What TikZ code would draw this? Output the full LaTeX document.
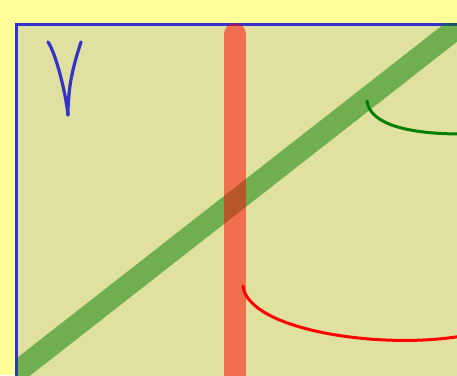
\documentclass[tikz,border=0pt]{standalone}
\usepackage{xcolor}
\usepackage{tikz}

\definecolor{paper}{RGB}{255,255,153}
\definecolor{khaki}{RGB}{224,224,160}
\definecolor{frameblue}{RGB}{51,51,204}
\definecolor{arcgreen}{RGB}{0,128,0}

\begin{document}
\begin{tikzpicture}[
    x=1pt, y=-1pt,
    frame/.style={draw=frameblue, fill=khaki, line width=3pt},
    bar/.style={line width=22pt, opacity=0.5},
    arc/.style={line width=3pt, line cap=round},
    vstroke/.style={draw=frameblue, line width=3.2pt, line cap=round, line join=round}
]
\useasboundingbox (0,0) rectangle (457,375);
\clip (0,0) rectangle (457,375);
\fill[paper] (0,0) rectangle (457,375);

% frame
\draw[frame] (16,24.5) rectangle (480,400);

% the V mark
\draw[vstroke] (48,42) .. controls (55,52) and (65,88) .. (68,115);
\draw[vstroke] (81,42) .. controls (74,64) and (68,84) .. (68,115);

% thick bars
\coordinate (greenlow) at (-10,393);
\coordinate (greenhigh) at (490,2);
\coordinate (redtop) at (235,34);
\coordinate (redbot) at (235,400);
\begin{scope}
  \clip (17,23) rectangle (480,400);
  \draw[bar, draw=arcgreen] (greenlow) -- (greenhigh);
\end{scope}
\draw[bar, draw=red, line cap=round] (redtop) -- (redbot);

% arcs
\coordinate (ga) at (367,101);
\coordinate (gb) at (462,134);
\coordinate (ra) at (243,286);
\coordinate (rb) at (462,336);
\draw[arc, arcgreen] (ga) .. controls (370,125) and (410,134) .. (gb);
\draw[arc, red] (ra) .. controls (248,330) and (380,350) .. (rb);
\end{tikzpicture}
\end{document}
